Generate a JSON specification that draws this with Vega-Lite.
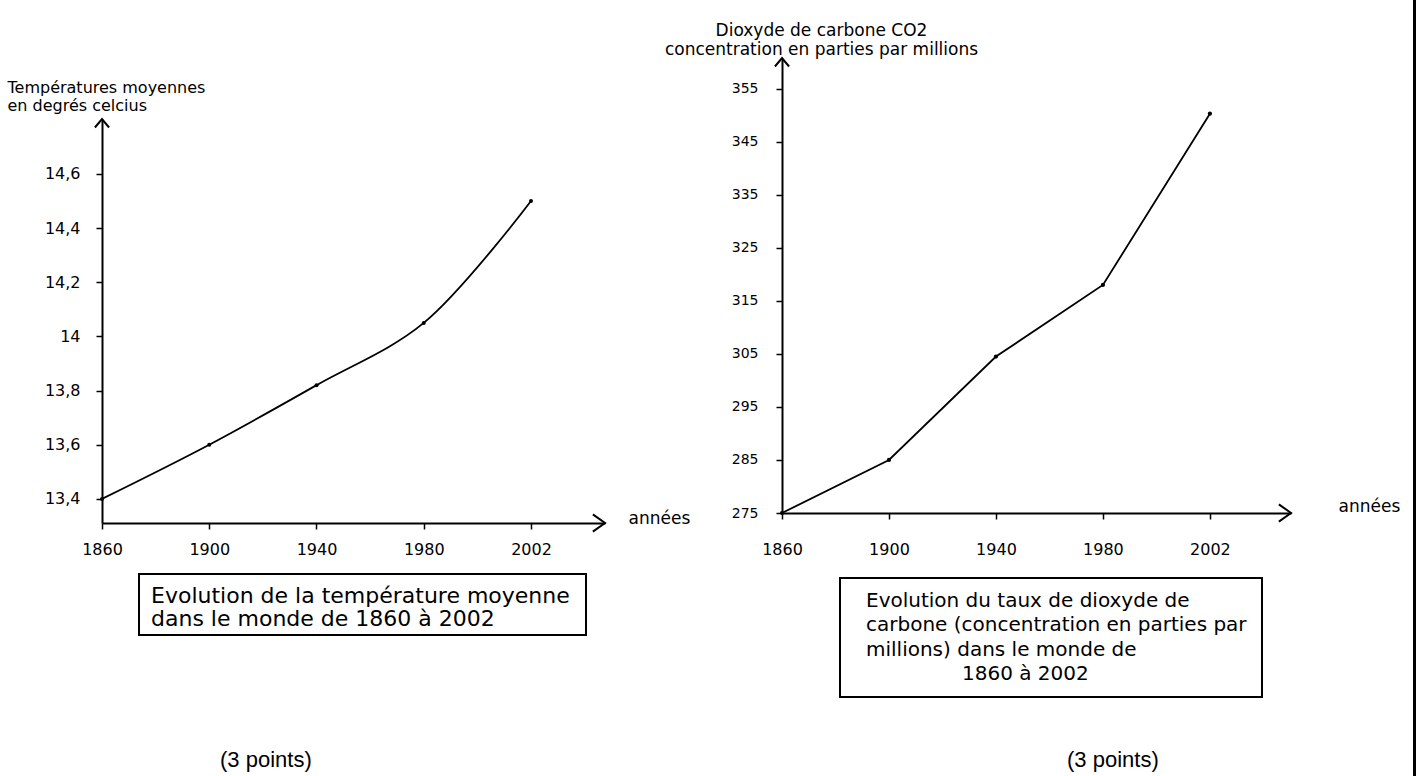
{
  "$schema": "https://vega.github.io/schema/vega-lite/v6.json",
  "padding": {"left": 7, "top": 0, "right": 0, "bottom": 0},
  "background": "white",
  "spacing": -38,
  "config": {
    "view": {"stroke": null},
    "axis": {
      "domainColor": "black", "domainWidth": 2,
      "tickColor": "black", "tickWidth": 1.5, "tickSize": 6,
      "labelColor": "black", "labelFont": "DejaVu Sans", "labelFontSize": 15,
      "titleColor": "black", "titleFont": "DejaVu Sans", "titleFontSize": 16, "titleFontWeight": "normal",
      "grid": false
    }
  },
  "hconcat": [
    {
      "spacing": 0,
      "bounds": "flush",
      "vconcat": [
        {"width": 600, "height": 118, "data": {"values": [{}]}, "mark": {"type": "text", "text": ""}},
        {
          "width": 503,
          "height": 404,
          "data": {"values": [
            {"annee": "1860", "temperature": 13.4},
            {"annee": "1900", "temperature": 13.6},
            {"annee": "1940", "temperature": 13.82},
            {"annee": "1980", "temperature": 14.05},
            {"annee": "2002", "temperature": 14.5}
          ]},
          "encoding": {
            "x": {
              "field": "annee", "type": "ordinal", "sort": null,
              "scale": {"type": "point", "padding": 0.345, "align": 0},
              "axis": {
                "labelAngle": 0, "labelPadding": 12, "labelFontSize": 16,
                "title": "années", "titleX": 526, "titleY": -5, "titleAlign": "left", "titleBaseline": "middle", "titleFontSize": 17, "titleAngle": 0
              }
            },
            "y": {
              "field": "temperature", "type": "quantitative",
              "scale": {"domain": [13.311, 14.803], "nice": false, "zero": false},
              "axis": {
                "values": [13.4, 13.6, 13.8, 14, 14.2, 14.4, 14.6],
                "labelExpr": "replace(format(datum.value, '.1~f'), '.', ',')",
                "labelPadding": 16, "labelFontSize": 16,
                "title": ["Températures moyennes", "en degrés celcius"],
                "titleAngle": 0, "titleX": -95, "titleY": -27, "titleAlign": "left", "titleBaseline": "alphabetic", "titleLineHeight": 18, "titleFontSize": 16
              }
            }
          },
          "layer": [
            {"mark": {"type": "line", "interpolate": "catmull-rom", "color": "black", "strokeWidth": 1.8}},
            {"mark": {"type": "point", "filled": true, "color": "black", "size": 16, "opacity": 1}},
            {
              "data": {"values": [{"fleche": "x"}]},
              "mark": {"type": "point", "shape": "M -1.4 -1 L 0 0 L -1.4 1", "filled": false, "stroke": "black", "strokeWidth": 2, "size": 300, "opacity": 1},
              "encoding": {"x": {"value": "width"}, "y": {"value": "height"}}
            },
            {
              "data": {"values": [{"fleche": "y"}]},
              "mark": {"type": "point", "shape": "M -1 1.2 L 0 0 L 1 1.2", "filled": false, "stroke": "black", "strokeWidth": 2, "size": 200, "opacity": 1},
              "encoding": {"x": {"value": 0}, "y": {"value": 0}}
            }
          ]
        },
        {"width": 1, "height": 51, "data": {"values": [{}]}, "mark": {"type": "text", "text": ""}},
        {
          "spacing": 0,
          "bounds": "flush",
          "hconcat": [
            {"width": 37, "height": 1, "data": {"values": [{}]}, "mark": {"type": "text", "text": ""}},
            {
              "width": 447,
              "height": 61,
              "view": {"stroke": "black", "strokeWidth": 2},
              "data": {"values": [
                {"ligne": 1, "texte": "Evolution de la température moyenne"},
                {"ligne": 2, "texte": "dans le monde de 1860 à 2002"}
              ]},
              "mark": {"type": "text", "align": "left", "baseline": "middle", "dx": 12, "font": "DejaVu Sans", "fontSize": 22, "color": "black"},
              "encoding": {
                "x": {"value": 0},
                "y": {"field": "ligne", "type": "ordinal", "axis": null, "scale": {"type": "point", "padding": 0.826, "align": 0.58}},
                "text": {"field": "texte"}
              },
              "title": {"text": "(3 points)", "orient": "bottom", "anchor": "start", "frame": "group", "dx": 81, "offset": 115, "baseline": "top", "font": "Liberation Sans", "fontSize": 22, "fontWeight": "normal", "color": "black"}
            }
          ]
        }
      ]
    },
    {
      "spacing": 0,
      "bounds": "flush",
      "vconcat": [
        {"width": 632, "height": 57, "data": {"values": [{}]}, "mark": {"type": "text", "text": ""}},
        {
          "width": 509,
          "height": 455,
          "data": {"values": [
            {"annee": "1860", "co2": 275},
            {"annee": "1900", "co2": 285},
            {"annee": "1940", "co2": 304.5},
            {"annee": "1980", "co2": 318},
            {"annee": "2002", "co2": 350.3}
          ]},
          "encoding": {
            "x": {
              "field": "annee", "type": "ordinal", "sort": null,
              "scale": {"type": "point", "padding": 0.379, "align": 0},
              "axis": {
                "labelAngle": 0, "labelPadding": 22, "labelFontSize": 16,
                "title": "années", "titleX": 556, "titleY": -7, "titleAlign": "left", "titleBaseline": "middle", "titleFontSize": 17, "titleAngle": 0
              }
            },
            "y": {
              "field": "co2", "type": "quantitative",
              "scale": {"domain": [275, 360.8], "nice": false, "zero": false},
              "axis": {
                "values": [275, 285, 295, 305, 315, 325, 335, 345, 355],
                "labelPadding": 18, "labelFontSize": 14,
                "title": ["Dioxyde de carbone CO2", "concentration en parties par millions"],
                "titleAngle": 0, "titleX": 39, "titleY": -23, "titleAlign": "center", "titleBaseline": "alphabetic", "titleLineHeight": 19, "titleFontSize": 17
              }
            }
          },
          "layer": [
            {"mark": {"type": "line", "interpolate": "linear", "color": "black", "strokeWidth": 1.8}},
            {"mark": {"type": "point", "filled": true, "color": "black", "size": 18, "opacity": 1}},
            {
              "data": {"values": [{"fleche": "x"}]},
              "mark": {"type": "point", "shape": "M -1.4 -1 L 0 0 L -1.4 1", "filled": false, "stroke": "black", "strokeWidth": 2, "size": 300, "opacity": 1},
              "encoding": {"x": {"value": "width"}, "y": {"value": "height"}}
            },
            {
              "data": {"values": [{"fleche": "y"}]},
              "mark": {"type": "point", "shape": "M -1 1.2 L 0 0 L 1 1.2", "filled": false, "stroke": "black", "strokeWidth": 2, "size": 200, "opacity": 1},
              "encoding": {"x": {"value": 0}, "y": {"value": 0}}
            }
          ]
        },
        {"width": 1, "height": 65, "data": {"values": [{}]}, "mark": {"type": "text", "text": ""}},
        {
          "spacing": 0,
          "bounds": "flush",
          "hconcat": [
            {"width": 58, "height": 1, "data": {"values": [{}]}, "mark": {"type": "text", "text": ""}},
            {
              "width": 422,
              "height": 119,
              "view": {"stroke": "black", "strokeWidth": 2},
              "data": {"values": [
                {"ligne": 1, "texte": "Evolution du taux de dioxyde de"},
                {"ligne": 2, "texte": "carbone (concentration en parties par"},
                {"ligne": 3, "texte": "millions) dans le monde de"},
                {"ligne": 4, "texte": "1860 à 2002"}
              ]},
              "encoding": {
                "x": {"value": 0},
                "y": {"field": "ligne", "type": "ordinal", "axis": null, "scale": {"type": "point", "padding": 0.95, "align": 0.5}},
                "text": {"field": "texte"}
              },
              "layer": [
                {
                  "transform": [{"filter": "datum.ligne < 4"}],
                  "mark": {"type": "text", "align": "left", "baseline": "middle", "dx": 26, "font": "DejaVu Sans", "fontSize": 20, "color": "black"}
                },
                {
                  "transform": [{"filter": "datum.ligne == 4"}],
                  "mark": {"type": "text", "align": "left", "baseline": "middle", "dx": 122, "font": "DejaVu Sans", "fontSize": 20, "color": "black"}
                }
              ],
              "title": {"text": "(3 points)", "orient": "bottom", "anchor": "start", "frame": "group", "dx": 227, "offset": 53, "baseline": "top", "font": "Liberation Sans", "fontSize": 22, "fontWeight": "normal", "color": "black"}
            }
          ]
        }
      ]
    },
    {"width": 1, "height": 776, "view": {"stroke": "black", "strokeWidth": 2}, "data": {"values": [{}]}, "mark": {"type": "text", "text": ""}}
  ]
}
